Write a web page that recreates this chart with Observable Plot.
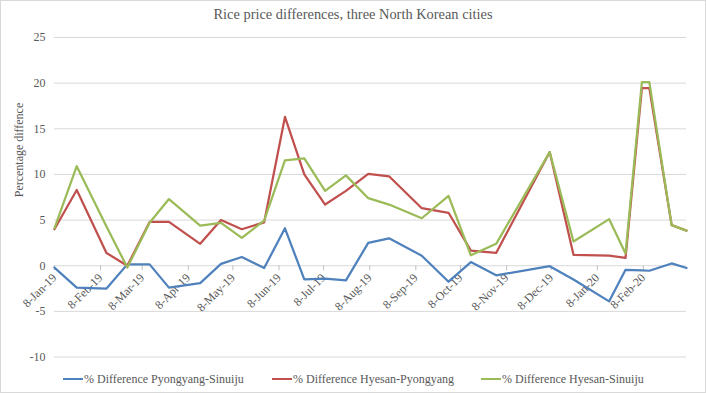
<!DOCTYPE html>
<html><head><meta charset="utf-8">
<script src="https://cdn.jsdelivr.net/npm/d3@7"></script>
<script src="https://cdn.jsdelivr.net/npm/@observablehq/plot@0.6"></script>
<style>
html,body{margin:0;padding:0;background:#fff;}
#chart{position:relative;width:706px;height:393px;box-sizing:border-box;border:1px solid #d9d9d9;font-family:"Liberation Serif","Times New Roman",serif;color:#595959;overflow:hidden;background:#fff}
#title{position:absolute;left:-1px;top:5px;width:706px;text-align:center;font-size:14.4px;}
#plot{position:absolute;left:-1px;top:28px;}
.lg{position:absolute;top:370px;font-size:12px;white-space:nowrap;line-height:16px;}
.sw{display:inline-block;width:20px;height:0;border-top:2.25px solid;vertical-align:middle;margin-right:1px;position:relative;top:-1px}
</style>
</head><body>
<div id="chart">
  <div id="title"></div>
  <div id="plot"></div>
  <div id="legend"></div>
</div>
<script>
const title = "Rice price differences, three North Korean cities";
const yLabel = "Percentage diffence";
const seriesNames = ["% Difference Pyongyang-Sinuiju", "% Difference Hyesan-Pyongyang", "% Difference Hyesan-Sinuiju"];
const seriesColors = ["#4F81BD", "#C0504D", "#9BBB59"];
const dates = ["2019-01-08","2019-01-23","2019-02-12","2019-02-26","2019-03-13","2019-03-26","2019-04-16","2019-04-30","2019-05-14","2019-05-29","2019-06-12","2019-06-25","2019-07-09","2019-07-23","2019-08-07","2019-08-21","2019-09-12","2019-09-30","2019-10-15","2019-11-01","2019-12-07","2019-12-23","2020-01-16","2020-01-27","2020-02-07","2020-02-12","2020-02-27","2020-03-08"];
const pyongyangSinuiju = [-0.2,-2.4,-2.5,0.15,0.15,-2.4,-1.9,0.2,0.95,-0.25,4.1,-1.5,-1.4,-1.6,2.5,3.0,1.1,-1.75,0.4,-1.05,-0.05,-1.5,-3.9,-0.45,-0.5,-0.55,0.25,-0.25];
const hyesanPyongyang = [4.0,8.3,1.4,0.0,4.8,4.8,2.4,5.0,4.0,4.75,16.3,10.0,6.7,8.2,10.05,9.8,6.3,5.8,1.65,1.4,12.45,1.2,1.1,0.85,19.45,19.45,4.45,3.85];
const hyesanSinuiju = [4.1,10.9,4.3,-0.2,4.7,7.3,4.4,4.7,3.05,4.95,11.55,11.75,8.2,9.9,7.4,6.7,5.2,7.65,1.15,2.4,12.45,2.65,5.1,1.35,20.1,20.1,4.45,3.85];
const xTickDates = ["2019-01-08","2019-02-08","2019-03-08","2019-04-08","2019-05-08","2019-06-08","2019-07-08","2019-08-08","2019-09-08","2019-10-08","2019-11-08","2019-12-08","2020-01-08","2020-02-08"];
const xTickLabels = ["8-Jan-19","8-Feb-19","8-Mar-19","8-Apr-19","8-May-19","8-Jun-19","8-Jul-19","8-Aug-19","8-Sep-19","8-Oct-19","8-Nov-19","8-Dec-19","8-Jan-20","8-Feb-20"];
const xDomain = ["2019-01-08","2020-03-08"];
const yTicks = [-10,-5,0,5,10,15,20,25];

const parse = d3.utcParse("%Y-%m-%d");
const valueSets = [pyongyangSinuiju, hyesanPyongyang, hyesanSinuiju];
const rows = [];
valueSets.forEach((vals, s) => vals.forEach((v, i) => rows.push({date: parse(dates[i]), value: v, series: seriesNames[s]})));
const ticks = xTickDates.map((d, i) => ({date: parse(d), label: xTickLabels[i]}));

document.getElementById("title").textContent = title;

const chart = Plot.plot({
  width: 706,
  height: 336,
  marginTop: 8,
  marginBottom: 8,
  marginLeft: 54,
  marginRight: 19,
  style: {fontFamily: "'Liberation Serif','Times New Roman',serif", fontSize: "12px", color: "#595959", background: "transparent", overflow: "visible"},
  x: {type: "utc", domain: xDomain.map(parse), axis: null},
  y: {domain: [-10, 25], ticks: yTicks, tickSize: 0, tickPadding: 9, tickFormat: d => String(d), label: null},
  color: {domain: seriesNames, range: seriesColors},
  marks: [
    Plot.ruleY(yTicks, {stroke: "#d9d9d9", strokeWidth: 1}),
    Plot.ruleX(ticks, {x: "date", y1: 0, y2: 0, insetBottom: -5, stroke: "#bfbfbf"}),
    Plot.text(ticks, {x: "date", y: 0, text: "label", rotate: -45, textAnchor: "end", dx: 0, dy: 10, fontSize: 12, fill: "#595959"}),
    Plot.text([yLabel], {frameAnchor: "left", text: d => d, rotate: -90, dx: -35, fontSize: 12, fill: "#595959"}),
    Plot.line(rows, {x: "date", y: "value", z: "series", stroke: "series", strokeWidth: 2.25, strokeLinejoin: "round"})
  ]
});
document.getElementById("plot").appendChild(chart);

const legend = document.getElementById("legend");
const lgLeft = [62, 271, 480];
seriesNames.forEach((name, i) => {
  const item = document.createElement("div");
  item.className = "lg";
  item.style.left = lgLeft[i] + "px";
  const sw = document.createElement("span");
  sw.className = "sw";
  sw.style.borderTopColor = seriesColors[i];
  item.appendChild(sw);
  item.appendChild(document.createTextNode(name));
  legend.appendChild(item);
});
</script>
</body></html>
